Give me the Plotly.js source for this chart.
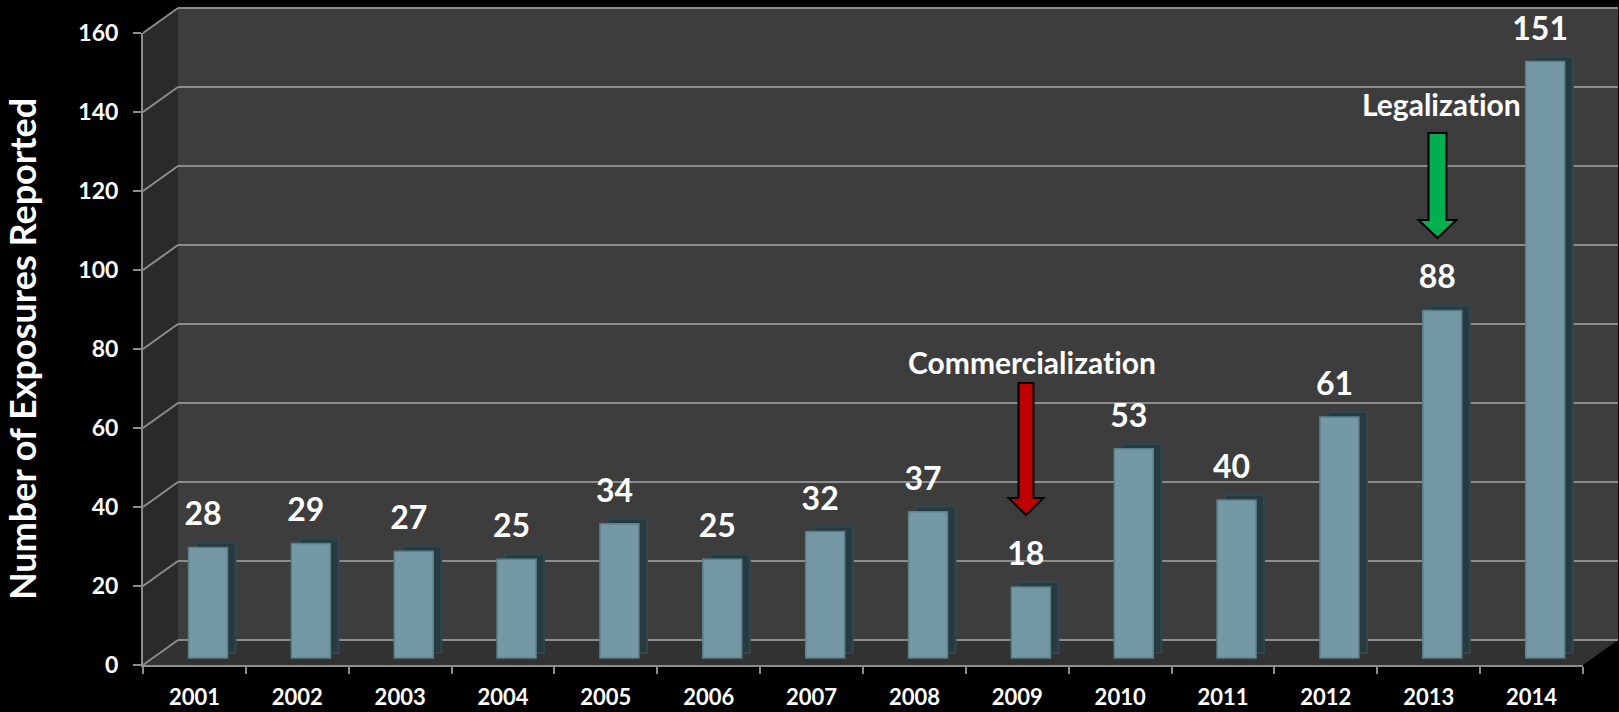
<!DOCTYPE html>
<html><head><meta charset="utf-8">
<script src="https://cdn.plot.ly/plotly-3.0.1.min.js"></script>
<style>
html,body{margin:0;padding:0;background:#000;overflow:hidden;}
svg text{font-variant-ligatures:none !important;font-feature-settings:"liga" 0, "clig" 0 !important;}
</style>
</head><body>
<div id="chart" style="width:1619px;height:712px;"></div>
<script>
// ---- data ----
const years = ['2001','2002','2003','2004','2005','2006','2007','2008','2009','2010','2011','2012','2013','2014'];
const exposures = [28, 29, 27, 25, 34, 25, 32, 37, 18, 53, 40, 61, 88, 151];
const yTickValues = [0, 20, 40, 60, 80, 100, 120, 140, 160];
const yAxisTitle = 'Number of Exposures Reported';
const eventLabels = ['Commercialization', 'Legalization'];

// ---- geometry (pixels) ----
const W = 1619, H = 712;
const L = 143, R = 1583, T = 33, B = 665;
const pw = R - L, ph = B - T;
const yMax = 160;
const unit = ph / yMax;
const catW = pw / years.length;
const DX = 35, DY = 25;               // depth of the 3-D box
const barDX = 13.6, barDY = 7;        // bar front face offset into depth
const sideDX = 8, sideDY = 5;         // extrusion of bar side
const labelLift = 14;                 // extra lift of value labels
const fx = p => (p - L) / pw;
const fy = p => (B - p) / ph;

const FONT = 'Lato, "Open Sans", "DejaVu Sans", sans-serif';

function shiftedX(dxPx) {
  const d = dxPx / catW;
  return [-0.5 - d, years.length - 0.5 - d];
}
function shiftedY(dyPx) {
  const d = dyPx / unit;
  return [-d, yMax - d];
}

const shapes = [];
function poly(pts, fill, line) {
  let d = 'M' + pts.map(p => fx(p[0]) + ',' + fy(p[1])).join(' L') + ' Z';
  shapes.push({type: 'path', xref: 'paper', yref: 'paper', path: d,
    fillcolor: fill, line: line || {width: 0}, layer: 'below'});
}
function seg(x0, y0, x1, y1, color, w) {
  shapes.push({type: 'line', xref: 'paper', yref: 'paper',
    x0: fx(x0), y0: fy(y0), x1: fx(x1), y1: fy(y1),
    line: {color: color, width: w}, layer: 'below'});
}
// walls
poly([[L + DX, B - DY], [R + DX, B - DY], [R + DX, T - DY + 1], [L + DX, T - DY + 1]], '#3d3d3d');
poly([[L, B], [L, T], [L + DX, T - DY], [L + DX, B - DY]], '#2a2a2a');
poly([[L, B], [R, B], [R + DX, B - DY], [L + DX, B - DY]], '#323232');
// gridlines: side wall diagonals + back wall horizontals
yTickValues.forEach(v => {
  const yf = B - v * unit, yb = B - DY - v * unit;
  seg(L, yf, L + DX, yb, '#8c8c8c', 2);
  seg(L + DX, yb, R + DX, yb, '#8c8c8c', 2);
});

// arrows
function arrow(cx, top, headStart, tip, shaftW, headW, fill) {
  const s = shaftW / 2, h = headW / 2;
  poly([[cx - s, top], [cx + s, top], [cx + s, headStart], [cx + h, headStart],
        [cx, tip], [cx - h, headStart], [cx - s, headStart]], fill, {color: '#000', width: 2});
  shapes[shapes.length - 1].layer = 'above';
}
arrow(1026, 383, 498, 515, 15, 35, '#c00000');
arrow(1437.5, 133, 220, 238, 18, 38, '#00b050');

const annotations = [];
annotations.push({xref: 'paper', yref: 'paper', x: fx(1032), y: fy(362), text: eventLabels[0],
  showarrow: false, xanchor: 'center', yanchor: 'middle',
  font: {family: FONT, size: 30, color: '#fff', weight: 'bold'}});
annotations.push({xref: 'paper', yref: 'paper', x: fx(1441), y: fy(104), text: eventLabels[1],
  showarrow: false, xanchor: 'center', yanchor: 'middle',
  font: {family: FONT, size: 30, color: '#fff', weight: 'bold'}});

const barW = 39 / catW;
const traces = [
  // carries the front axes (ticks, axis lines, title); draws nothing itself
  {type: 'scatter', x: years, y: exposures, xaxis: 'x', yaxis: 'y', mode: 'none', hoverinfo: 'skip'},
  // bar side / top extrusion
  {type: 'bar', x: years, y: exposures, xaxis: 'x2', yaxis: 'y2', width: barW,
   marker: {color: '#263a40', line: {color: '#2f474e', width: 2}}, hoverinfo: 'skip'},
  // bar front face
  {type: 'bar', x: years, y: exposures, xaxis: 'x3', yaxis: 'y3', width: barW,
   marker: {color: '#7499a4', line: {color: '#5a7f8a', width: 1.5}}, hoverinfo: 'x+y'},
  // value labels
  {type: 'scatter', x: years, y: exposures, xaxis: 'x4', yaxis: 'y4', mode: 'text',
   text: exposures.map(String), textposition: 'top center', cliponaxis: false,
   textfont: {family: FONT, size: 32, color: '#fff', weight: 'bold'}, hoverinfo: 'skip'}
];

const hidden = {visible: false, type: 'category', categoryorder: 'array', categoryarray: years};
const layout = {
  width: W, height: H,
  margin: {l: L, r: W - R, t: T, b: H - B, pad: 0},
  paper_bgcolor: '#000', plot_bgcolor: 'rgba(0,0,0,0)',
  showlegend: false, bargap: 0,
  font: {family: FONT, color: '#fff'},
  xaxis: {type: 'category', categoryorder: 'array', categoryarray: years,
    range: [-0.5, years.length - 0.5], showgrid: false, zeroline: false,
    showline: true, linecolor: '#8c8c8c', linewidth: 2,
    ticks: 'outside', tickson: 'boundaries', ticklen: 7, tickcolor: '#8c8c8c', tickwidth: 2,
    ticklabelstandoff: 12,
    tickfont: {family: FONT, size: 22, color: '#fff', weight: 'bold'}, fixedrange: true},
  yaxis: {range: [0, yMax], tickvals: yTickValues, showgrid: false, zeroline: false,
    showline: true, linecolor: '#8c8c8c', linewidth: 2,
    ticks: 'outside', ticklen: 8, tickcolor: '#8c8c8c', tickwidth: 2,
    ticklabelstandoff: 10,
    tickfont: {family: FONT, size: 23, color: '#fff', weight: 'bold'},
    title: {text: yAxisTitle, standoff: 33, font: {family: FONT, size: 36, color: '#fff', weight: 'bold'}},
    fixedrange: true},
  xaxis2: Object.assign({}, hidden, {overlaying: 'x', range: shiftedX(barDX + sideDX)}),
  yaxis2: {visible: false, overlaying: 'y', range: shiftedY(barDY + sideDY)},
  xaxis3: Object.assign({}, hidden, {overlaying: 'x', range: shiftedX(barDX)}),
  yaxis3: {visible: false, overlaying: 'y', range: shiftedY(barDY)},
  xaxis4: Object.assign({}, hidden, {overlaying: 'x', range: shiftedX(barDX - 5)}),
  yaxis4: {visible: false, overlaying: 'y', range: shiftedY(barDY + labelLift)},
  shapes: shapes,
  annotations: annotations
};

Plotly.newPlot('chart', traces, layout, {displayModeBar: false, staticPlot: true});
</script>
</body></html>
